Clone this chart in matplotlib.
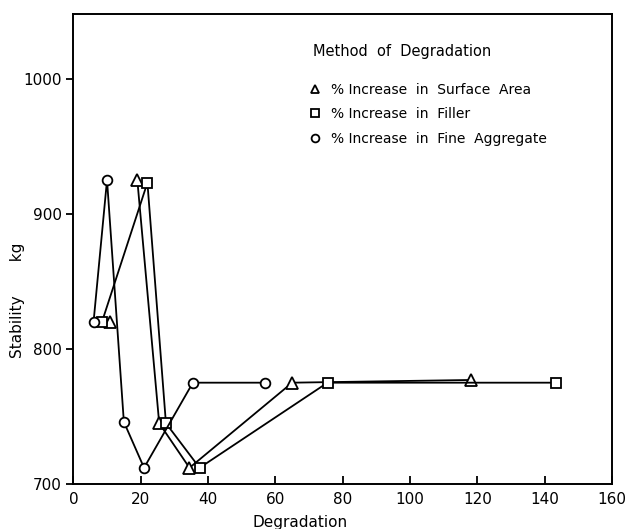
import numpy as np
import matplotlib
matplotlib.use('Agg')
import matplotlib.pyplot as plt

# data (degradation vs stability kg)
surf_x = [11, 19, 25.5, 34.5, 65, 118]
surf_y = [820, 925, 745, 712, 775, 777]
filler_x = [8.5, 22, 27.5, 37.5, 75.5, 143.5]
filler_y = [820, 923, 745, 712, 775, 775]
fine_x = [6, 10, 15, 21, 35.5, 57]
fine_y = [820, 925, 746, 712, 775, 775]

labels = ['% Increase  in  Surface  Area',
          '% Increase  in  Filler',
          '% Increase  in  Fine  Aggregate']
xticks = [0, 20, 40, 60, 80, 100, 120, 140, 160]
yticks = [700, 800, 900, 1000]

plt.rcParams['font.family'] = ['DejaVu Sans']

fig = plt.figure(figsize=(6.27, 5.29), dpi=100)
ax = fig.add_axes([0.117, 0.085, 0.859, 0.889])

mk = dict(mfc='white', mec='black', mew=1.3)
# first surface-area point is not joined in the original
ax.plot(surf_x[1:], surf_y[1:], color='black', lw=1.3)
ax.plot(surf_x, surf_y, ls='none', marker='^', ms=8, label=labels[0], **mk)
ax.plot(filler_x, filler_y, color='black', lw=1.3)
ax.plot(filler_x, filler_y, ls='none', marker='s', ms=7, label=labels[1], **mk)
ax.plot(fine_x, fine_y, color='black', lw=1.3)
ax.plot(fine_x, fine_y, ls='none', marker='o', ms=7, label=labels[2], **mk)

ax.set_xlim(0, 160)
ax.set_ylim(700, 1048)
ax.set_xticks(xticks)
ax.set_yticks(yticks)
ax.tick_params(axis='x', direction='in', length=6, width=1.3, labelsize=11, pad=6)
ax.tick_params(axis='y', direction='out', length=5, width=1.3, labelsize=11)
for s in ax.spines.values():
    s.set_linewidth(1.4)

ax.set_xlabel('Degradation', fontsize=11, labelpad=2)
ax.xaxis.set_label_coords(0.42, -0.065)
ax.set_ylabel('Stability       kg', fontsize=11)
ax.yaxis.set_label_coords(-0.09, 0.39)

ax.text(0.445, 0.92, 'Method  of  Degradation', transform=ax.transAxes,
        fontsize=10.5, ha='left', va='center')
leg = ax.legend(loc='upper left', bbox_to_anchor=(0.43, 0.865), frameon=False,
                fontsize=10, handlelength=0.6, handletextpad=0.9,
                labelspacing=0.75, markerscale=0.8, borderaxespad=0)

fig.savefig('out.png', dpi=100)
